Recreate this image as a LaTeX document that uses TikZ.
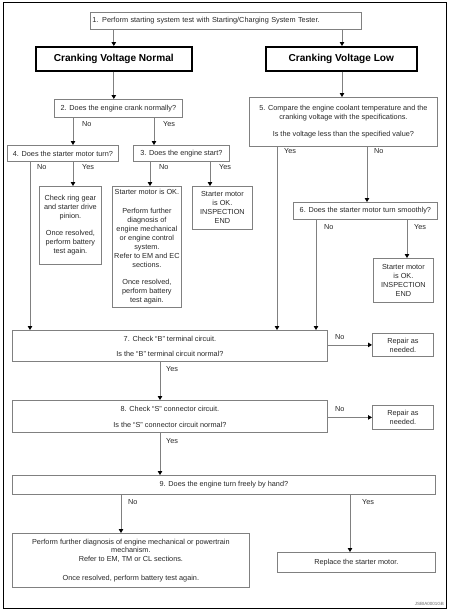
\documentclass[tikz,border=0pt]{standalone}
\usepackage{fontspec}
\setmainfont{Liberation Sans}
\usetikzlibrary{arrows.meta}
\begin{document}
\begin{tikzpicture}[x=1pt,y=-1pt,
 box/.style={draw=black!50, line width=0.8pt, inner sep=0pt, anchor=north west, align=center, text=black!85, font=\fontsize{7.3}{9}\selectfont},
 bigbox/.style={draw=black, line width=1.6pt, inner sep=0pt, anchor=north west, font=\fontsize{10.1}{12}\selectfont\bfseries},
 arr/.style={draw=black!50, line width=0.8pt, -{Triangle[width=4.5pt,length=4pt,color=black]}},
 lbl/.style={font=\fontsize{7.3}{8}\selectfont, text=black!85, inner sep=0pt, anchor=west},
]
\useasboundingbox (0,0) rectangle (449,614);
\draw[line width=1pt] (3,2) rectangle (446,608);

% nodes
\node[box, text width=267, align=left, inner xsep=2pt, minimum height=17] (n1) at (90,12) {1. Perform starting system test with Starting/Charging System Tester.};
\node[bigbox, minimum width=156, minimum height=24] (cvn) at (35,46) {Cranking Voltage Normal};
\node[bigbox, minimum width=151, minimum height=24] (cvl) at (265,46) {Cranking Voltage Low};
\node[box, minimum width=128, minimum height=18] (n2) at (54,99) {2. Does the engine crank normally?};
\node[box, minimum width=188, minimum height=49] (n5) at (249,97) {5. Compare the engine coolant temperature and the\\cranking voltage with the specifications.\\[8pt]Is the voltage less than the specified value?};
\node[box, minimum width=111, minimum height=16] (n4) at (7,145) {4. Does the starter motor turn?};
\node[box, minimum width=96, minimum height=16] (n3) at (133,145) {3. Does the engine start?};
\node[box, minimum width=62, minimum height=78] (ring) at (39,186) {Check ring gear\\and starter drive\\pinion.\\[8pt]Once resolved,\\perform battery\\test again.};
\node[box, minimum width=69, minimum height=121] (sm) at (112,186) {Starter motor is OK.\\[10pt]Perform further\\diagnosis of\\engine mechanical\\or engine control\\system.\\Refer to EM and EC\\sections.\\[8pt]Once resolved,\\perform battery\\test again.};
\node[box, minimum width=60, minimum height=43] (ie1) at (192,186) {Starter motor\\is OK.\\INSPECTION\\END};
\node[box, minimum width=144, minimum height=17] (n6) at (293,202) {6. Does the starter motor turn smoothly?};
\node[box, minimum width=60, minimum height=44] (ie2) at (373,258) {Starter motor\\is OK.\\INSPECTION\\END};
\node[box, minimum width=315, minimum height=31] (n7) at (12,330) {7. Check ``B'' terminal circuit.\\[6pt]Is the ``B'' terminal circuit normal?};
\node[box, minimum width=61, minimum height=23] (r1) at (372,333) {Repair as\\needed.};
\node[box, minimum width=315, minimum height=32] (n8) at (12,400) {8. Check ``S'' connector circuit.\\[7pt]Is the ``S'' connector circuit normal?};
\node[box, minimum width=61, minimum height=24] (r2) at (372,405) {Repair as\\needed.};
\node[box, minimum width=423, minimum height=19] (n9) at (12,475) {9. Does the engine turn freely by hand?};
\node[box, minimum width=237, minimum height=54, font=\fontsize{7.3}{8.6}\selectfont] (fd) at (12,533) {Perform further diagnosis of engine mechanical or powertrain\\mechanism.\\Refer to EM, TM or CL sections.\\[10pt]Once resolved, perform battery test again.};
\node[box, minimum width=158, minimum height=20] (rep) at (277,552) {Replace the starter motor.};
\node[font=\fontsize{4.5}{4.5}\selectfont, text=black!60, anchor=south east, inner sep=0pt] (code) at (444,606) {JSBIA0001GB};

% x positions
\coordinate (x30) at (30,0);
\coordinate (x73) at (73,0);
\coordinate (x121) at (121,0);
\coordinate (x150) at (150,0);
\coordinate (x154) at (154,0);
\coordinate (x160) at (160,0);
\coordinate (x210) at (210,0);
\coordinate (x277) at (277,0);
\coordinate (x316) at (316,0);
\coordinate (x342) at (342,0);
\coordinate (x350) at (350,0);
\coordinate (x367) at (367,0);
\coordinate (x407) at (407,0);

% connectors
\draw[arr] (n1.south -| cvn.north) -- (cvn.north);
\draw[arr] (n1.south -| x342) -- (cvl.north -| x342);
\draw[arr] (cvn.south) -- (cvn.south |- n2.north);
\draw[arr] (cvl.south -| x342) -- (n5.north -| x342);
\draw[arr] (n2.south -| x73) -- (n4.north -| x73);
\draw[arr] (n2.south -| x154) -- (n3.north -| x154);
\draw[arr] (n4.south -| x30) -- (n7.north -| x30);
\draw[arr] (n4.south -| x73) -- (ring.north -| x73);
\draw[arr] (n3.south -| x150) -- (sm.north -| x150);
\draw[arr] (n3.south -| x210) -- (ie1.north -| x210);
\draw[arr] (n5.south -| x277) -- (n7.north -| x277);
\draw[arr] (n5.south -| x367) -- (n6.north -| x367);
\draw[arr] (n6.south -| x316) -- (n7.north -| x316);
\draw[arr] (n6.south -| x407) -- (ie2.north -| x407);
\draw[arr] (n7.east |- r1.west) -- (r1.west);
\draw[arr] (n7.south -| x160) -- (n8.north -| x160);
\draw[arr] (n8.east |- r2.west) -- (r2.west);
\draw[arr] (n8.south -| x160) -- (n9.north -| x160);
\draw[arr] (n9.south -| x121) -- (fd.north -| x121);
\draw[arr] (n9.south -| x350) -- (rep.north -| x350);

% labels
\node[lbl] (l1) at (82,124) {No};
\node[lbl] (l2) at (163,124) {Yes};
\node[lbl] (l3) at (37,167) {No};
\node[lbl] (l4) at (82,167) {Yes};
\node[lbl] (l5) at (159,167) {No};
\node[lbl] (l6) at (219,167) {Yes};
\node[lbl] (l7) at (284,151) {Yes};
\node[lbl] (l8) at (374,151) {No};
\node[lbl] (l9) at (324,227) {No};
\node[lbl] (l10) at (414,227) {Yes};
\node[lbl] (l11) at (335,337) {No};
\node[lbl] (l12) at (166,369) {Yes};
\node[lbl] (l13) at (335,409) {No};
\node[lbl] (l14) at (166,441) {Yes};
\node[lbl] (l15) at (128,502) {No};
\node[lbl] (l16) at (362,502) {Yes};
\end{tikzpicture}
\end{document}
